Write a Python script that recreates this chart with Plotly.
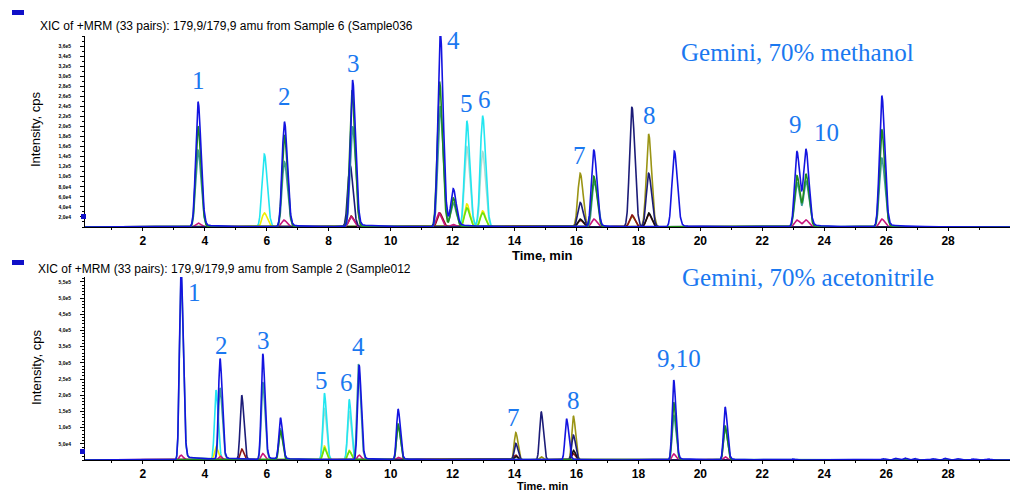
import numpy as np
import plotly.graph_objects as go

# ---------------- data: (retention time [min], peak height [cps]) ----------------
top_blue = [(3.78, 2.49e5), (6.57, 2.09e5), (8.77, 2.92e5), (11.60, 3.90e5), (12.02, 0.72e5),
            (16.56, 1.53e5), (19.16, 1.51e5), (23.12, 1.50e5), (23.41, 1.52e5), (25.86, 2.61e5)]
top_green = [(3.78, 2.00e5), (6.57, 1.83e5), (8.75, 2.72e5), (11.58, 2.89e5), (12.02, 0.58e5),
             (16.56, 1.01e5), (23.12, 1.02e5), (23.41, 1.05e5), (25.86, 1.94e5)]
top_teal = [(3.78, 1.53e5), (6.57, 1.30e5), (8.77, 2.00e5), (11.60, 2.40e5), (12.02, 0.45e5),
            (16.58, 0.90e5), (23.12, 0.88e5), (23.41, 0.90e5), (25.86, 1.37e5)]
top_navy = [(8.69, 1.23e5), (16.12, 0.49e5), (17.79, 2.39e5), (18.33, 1.07e5)]
top_olive = [(16.12, 1.07e5), (17.79, 0.22e5), (18.33, 1.85e5)]
top_black = [(16.12, 0.16e5), (18.33, 0.28e5)]
top_maroon = [(8.72, 0.22e5), (11.58, 0.28e5), (16.12, 0.14e5), (17.79, 0.24e5), (18.33, 0.26e5)]
top_magenta = [(3.78, 0.08e5), (6.55, 0.14e5), (8.72, 0.20e5), (11.55, 0.28e5), (12.02, 0.05e5),
               (16.56, 0.16e5), (23.12, 0.14e5), (23.41, 0.14e5), (25.86, 0.16e5)]
top_cyan = [(5.92, 1.45e5), (12.46, 2.11e5), (12.97, 2.21e5)]
top_paleteal = [(12.46, 1.60e5), (12.97, 1.50e5)]
top_yellow = [(5.92, 0.28e5), (12.46, 0.46e5), (12.97, 0.32e5)]
top_lime = [(12.46, 0.38e5), (12.97, 0.28e5)]

bot_blue = [(3.23, 6.00e5), (4.49, 3.11e5), (5.87, 3.27e5), (6.44, 1.27e5), (8.98, 2.93e5),
            (10.24, 1.56e5), (15.68, 1.27e5), (19.14, 2.47e5), (20.80, 1.63e5),
            (23.0, 0.03e5), (25.9, 0.04e5), (26.3, 0.05e5), (26.6, 0.06e5), (26.9, 0.05e5),
            (27.5, 0.04e5), (27.9, 0.05e5), (28.3, 0.04e5), (28.8, 0.03e5), (29.3, 0.03e5)]
bot_teal = [(3.23, 5.70e5), (4.49, 2.20e5), (5.87, 2.40e5), (6.44, 0.93e5), (8.96, 2.96e5),
            (10.24, 1.05e5), (19.14, 1.39e5), (20.80, 1.01e5)]
bot_green = [(6.44, 0.90e5), (10.24, 1.11e5), (19.14, 1.78e5), (20.80, 1.05e5)]
bot_navy = [(5.19, 2.00e5), (14.04, 0.51e5), (14.86, 1.49e5), (15.90, 0.77e5)]
bot_olive = [(14.04, 0.85e5), (14.86, 0.10e5), (15.90, 1.36e5)]
bot_black = [(14.04, 0.12e5), (15.90, 0.30e5)]
bot_maroon = [(5.19, 0.34e5), (14.04, 0.15e5), (15.90, 0.20e5)]
bot_magenta = [(3.23, 0.15e5), (4.49, 0.12e5), (5.87, 0.20e5), (8.98, 0.15e5), (10.24, 0.08e5),
               (19.14, 0.19e5), (20.80, 0.10e5)]
bot_cyan = [(4.36, 2.16e5), (7.86, 2.06e5), (8.66, 1.87e5)]
bot_paleteal = [(7.86, 1.60e5), (8.66, 1.50e5)]
bot_yellow = [(4.36, 0.41e5), (7.86, 0.43e5), (8.66, 0.30e5)]
bot_lime = [(7.86, 0.37e5), (8.66, 0.28e5)]

# peak labels: (text, time, intensity)
top_labels = [("1", 3.81, 2.92e5), ("2", 6.56, 2.59e5), ("3", 8.79, 3.26e5), ("4", 12.02, 3.72e5),
              ("5", 12.45, 2.45e5), ("6", 13.02, 2.53e5), ("7", 16.09, 1.43e5), ("8", 18.35, 2.21e5),
              ("9", 23.06, 2.03e5), ("10", 24.06, 1.89e5)]
bot_labels = [("1", 3.65, 5.18e5), ("2", 4.55, 3.55e5), ("3", 5.91, 3.70e5), ("4", 8.95, 3.49e5),
              ("5", 7.78, 2.47e5), ("6", 8.59, 2.38e5), ("7", 13.98, 1.30e5), ("8", 15.92, 1.85e5),
              ("9,10", 19.32, 3.12e5)]

top_yticks = [2e4, 4e4, 6e4, 8e4, 1.0e5, 1.2e5, 1.4e5, 1.6e5, 1.8e5, 2.0e5, 2.2e5, 2.4e5,
              2.6e5, 2.8e5, 3.0e5, 3.2e5, 3.4e5, 3.6e5]
top_yticktext = ["2,0e4", "4,0e4", "6,0e4", "8,0e4", "1,0e5", "1,2e5", "1,4e5", "1,6e5", "1,8e5",
                 "2,0e5", "2,2e5", "2,4e5", "2,6e5", "2,8e5", "3,0e5", "3,2e5", "3,4e5", "3,6e5"]
bot_yticks = [5e4, 1.0e5, 1.5e5, 2.0e5, 2.5e5, 3.0e5, 3.5e5, 4.0e5, 4.5e5, 5.0e5, 5.5e5]
bot_yticktext = ["5,0e4", "1,0e5", "1,5e5", "2,0e5", "2,5e5", "3,0e5", "3,5e5", "4,0e5",
                 "4,5e5", "5,0e5", "5,5e5"]
xticks = [2, 4, 6, 8, 10, 12, 14, 16, 18, 20, 22, 24, 26, 28]

title_top = "XIC of +MRM (33 pairs): 179,9/179,9 amu from Sample 6 (Sample036"
title_bot = "XIC of +MRM (33 pairs): 179,9/179,9 amu from Sample 2 (Sample012"
label_top = "Gemini, 70% methanol"
label_bot = "Gemini, 70% acetonitrile"

# ---------------- styles ----------------
COL = dict(paleteal="#a6dcd2", cyan="#22e6f0", yellow="#eeee00", lime="#66e010",
           olive="#9a9414", maroon="#8c1414", black="#111111", magenta="#c8147c",
           navy="#1c1c78", teal="#3c9a9a", green="#1e8a1e", blue="#1414e0")
LABEL_BLUE = "#1a78f0"
W, H = 1010, 490

t = np.linspace(0, 30, 6001)


def chromatogram(peaks, sl, sr, tail=0.0):
    y = np.zeros_like(t)
    for t0, h in peaks:
        s = np.where(t < t0, sl, sr)
        y += h * np.exp(-0.5 * ((t - t0) / s) ** 2)
        if tail:
            y += np.where(t > t0, h * tail * np.exp(-(t - t0) / 0.7) * (1 - np.exp(-((t - t0) / sr) ** 2)), 0)
    return y


fig = go.Figure()

panels = [
    ("x", "y", dict(paleteal=top_paleteal, cyan=top_cyan, yellow=top_yellow, lime=top_lime,
                    olive=top_olive, maroon=top_maroon, black=top_black, magenta=top_magenta,
                    navy=top_navy, teal=top_teal, green=top_green, blue=top_blue), 0.075, 0.095),
    ("x2", "y2", dict(paleteal=bot_paleteal, cyan=bot_cyan, yellow=bot_yellow, lime=bot_lime,
                      olive=bot_olive, maroon=bot_maroon, black=bot_black, magenta=bot_magenta,
                      navy=bot_navy, teal=bot_teal, green=bot_green, blue=bot_blue), 0.05, 0.07),
]
for xa, ya, series, sl, sr in panels:
    for name, peaks in series.items():
        tail = 0.02 if name in ("blue", "teal") else 0.0
        fig.add_trace(go.Scatter(x=t, y=chromatogram(peaks, sl, sr, tail), mode="lines",
                                 line=dict(color=COL[name], width=1.6), xaxis=xa, yaxis=ya,
                                 showlegend=False, hoverinfo="skip"))


def px(x):
    return x / W


def py(y):
    return (H - y) / H


xdom = [px(85), 1.0]
top_dom = [py(227), py(36)]
bot_dom = [py(460), py(277)]

xcommon = dict(domain=xdom, range=[0.13, 30.0], tickvals=xticks, ticks="outside", ticklen=3,
               tickcolor="black", showline=True, linecolor="black", linewidth=1, showgrid=False,
               zeroline=False, layer="below traces", automargin=False,
               tickfont=dict(family="Liberation Sans", size=12, color="black", weight="bold"),
               minor=dict(dtick=1, tick0=0, ticks="outside", ticklen=2, tickcolor="black"))
ycommon = dict(ticks="outside", ticklen=4, tickcolor="black", showline=True, linecolor="black",
               linewidth=1, showgrid=False, zeroline=False, layer="below traces", automargin=False,
               ticklabelstandoff=8,
               tickfont=dict(family="Liberation Sans", size=5, color="black", weight="bold"))

fig.update_layout(
    width=W, height=H, margin=dict(l=0, r=0, t=0, b=0, autoexpand=False),
    paper_bgcolor="white", plot_bgcolor="white", showlegend=False,
    xaxis=dict(anchor="y", **xcommon),
    xaxis2=dict(anchor="y2", **xcommon),
    yaxis=dict(domain=top_dom, range=[0, 3.8e5], anchor="x", tickvals=top_yticks,
               ticktext=top_yticktext, minor=dict(dtick=1e4, tick0=0, ticks="outside", ticklen=2,
                                                  tickcolor="black"), **ycommon),
    yaxis2=dict(domain=bot_dom, range=[0, 5.65e5], anchor="x2", tickvals=bot_yticks,
                ticktext=bot_yticktext, minor=dict(dtick=1e4, tick0=0, ticks="outside", ticklen=2,
                                                   tickcolor="black"), **ycommon),
)

serif = dict(family="Liberation Serif", size=25, color=LABEL_BLUE)
ann = []
for txt, tx, ty in top_labels:
    ann.append(dict(text=txt, x=tx, y=ty, xref="x", yref="y", showarrow=False,
                    xanchor="center", yanchor="middle", font=serif))
for txt, tx, ty in bot_labels:
    ann.append(dict(text=txt, x=tx, y=ty, xref="x2", yref="y2", showarrow=False,
                    xanchor="center", yanchor="middle", font=serif))
sans12 = dict(family="Liberation Sans", size=12, color="black")
ann += [
    dict(text=label_top, x=px(797), y=py(52), font=serif),
    dict(text=label_bot, x=px(808), y=py(277), font=serif),
    dict(text=title_top, x=px(38), y=py(26), xanchor="left", font=sans12),
    dict(text=title_bot, x=px(36), y=py(269), xanchor="left", font=sans12),
    dict(text="Intensity, cps", x=px(36), y=py(130), textangle=-90,
         font=dict(family="Liberation Sans", size=13, color="black")),
    dict(text="Intensity, cps", x=px(36), y=py(368), textangle=-90,
         font=dict(family="Liberation Sans", size=13, color="black")),
    dict(text="Time, min", x=px(542), y=py(255),
         font=dict(family="Liberation Sans", size=13, color="black", weight="bold")),
    dict(text="Time, min", x=px(542), y=py(485.5),
         font=dict(family="Liberation Sans", size=11, color="black", weight="bold")),
]
for a in ann[len(top_labels) + len(bot_labels):]:
    a.update(xref="paper", yref="paper", showarrow=False)
    a.setdefault("xanchor", "center")
    a.setdefault("yanchor", "middle")
fig.update_layout(annotations=ann)

shapes = [
    dict(type="rect", x0=px(12), x1=px(24), y0=py(15), y1=py(10)),
    dict(type="rect", x0=px(12), x1=px(24), y0=py(265), y1=py(260)),
    dict(type="rect", x0=px(81), x1=px(86), y0=py(219), y1=py(214)),
    dict(type="rect", x0=px(80), x1=px(85), y0=py(454), y1=py(449)),
]
for s in shapes:
    s.update(xref="paper", yref="paper", fillcolor="#1010c8", line=dict(width=0))
fig.update_layout(shapes=shapes)

fig.write_html("out.html", config={"displayModeBar": False},
               post_script="document.body.style.margin='0';")
